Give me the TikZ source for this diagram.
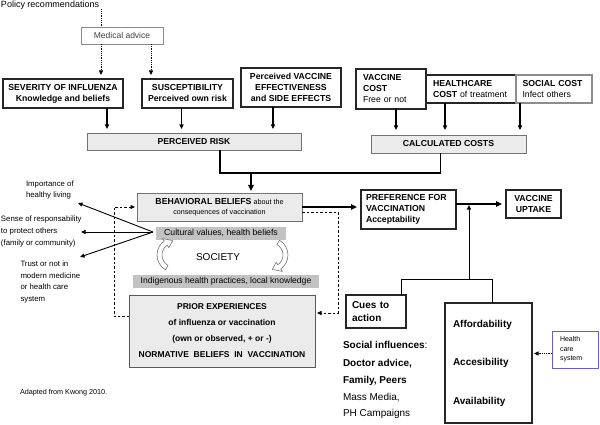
\documentclass[tikz,border=0pt]{standalone}
\usepackage{fontspec}
\setmainfont{Liberation Sans}
\usetikzlibrary{arrows.meta,calc}
\definecolor{hcsblue}{RGB}{100,100,180}
\begin{document}
\begin{tikzpicture}[x=1pt,y=-1pt,
  every node/.style={inner sep=0pt, outer sep=0pt},
  bx/.style={draw=black!85, line width=1.1pt, fill=white, align=center, font=\fontsize{8.7}{11}\selectfont\bfseries},
  lbx/.style={bx, align=left},
  gbox/.style={draw=black!55, line width=0.9pt, fill=black!8},
  band/.style={fill=black!24},
  tip/.style={-{Triangle[length=4.5pt,width=4pt]}},
  bigtip/.style={-{Triangle[length=6pt,width=5.5pt]}},
  thk/.style={line width=1.8pt},
  med/.style={line width=1.1pt},
  dsh/.style={dash pattern=on 2.5pt off 2pt, line width=0.8pt},
  dot/.style={densely dotted, line width=0.8pt},
  txt/.style={font=\fontsize{7.8}{11.8}\selectfont, align=left},
  sitxt/.style={anchor=base west, font=\fontsize{10}{12}\selectfont},
  circarrow/.style={draw=black!55, fill=white, line width=0.6pt},
]
\useasboundingbox (0,0) rectangle (600,425);

% ---------- top ----------
\node[anchor=west, font=\fontsize{9}{11}\selectfont] (policy) at (1,5) {Policy recommendations};
\node[draw=black!45, line width=0.8pt, minimum width=82, minimum height=17,
      font=\fontsize{8.5}{10}\selectfont, text=black!75] (medical) at (122,35.5) {Medical advice};

\node[bx, minimum width=120, minimum height=29] (sev) at (63,93.5) {SEVERITY OF INFLUENZA\\Knowledge and beliefs};
\node[bx, minimum width=91, minimum height=29] (sus) at (187.5,93.5) {SUSCEPTIBILITY\\Perceived own risk};
\node[bx, minimum width=100, minimum height=39] (pve) at (291,87.5) {Perceived VACCINE\\EFFECTIVENESS\\and SIDE EFFECTS};

\node[gbox, minimum width=214, minimum height=17, font=\fontsize{8.6}{10}\selectfont\bfseries] (prisk) at (194,141.5) {PERCEIVED RISK};

\node[lbx, minimum width=90, minimum height=28, text width=76, inner xsep=7] (hcost) at (471,89) {HEALTHCARE\\COST {\mdseries of treatment}};
\node[lbx, draw=black!45, minimum width=76, minimum height=28, text width=63, inner xsep=6.5] (scost) at (554,89) {SOCIAL COST\\{\mdseries Infect others}};
\node[lbx, minimum width=70, minimum height=40, text width=56, inner xsep=7] (vcost) at (391,89) {VACCINE\\COST\\{\mdseries Free or not}};

\node[gbox, minimum width=155, minimum height=18, font=\fontsize{8.7}{10}\selectfont\bfseries] (ccost) at (448.5,144) {CALCULATED COSTS};

% ---------- middle ----------
\node[gbox, minimum width=165, minimum height=28, align=center, font=\fontsize{7.2}{10}\selectfont] (bbel) at (219.5,207)
  {{\fontsize{8.7}{10}\selectfont\bfseries BEHAVIORAL BELIEFS} about the\\consequences of vaccination};
\node[band, minimum width=130, minimum height=13, font=\fontsize{8.7}{10}\selectfont] (cult) at (221,233) {Cultural values, health beliefs};
\node[font=\fontsize{10}{12}\selectfont] (soc) at (218,257) {SOCIETY};
\node[band, minimum width=186, minimum height=13, font=\fontsize{8.6}{10}\selectfont] (indig) at (226,281) {Indigenous health practices, local knowledge};
\node[gbox, draw=black!65, minimum width=186, minimum height=72, align=center,
      font=\fontsize{8.5}{16}\selectfont\bfseries] (prior) at (222,331)
  {PRIOR EXPERIENCES\\of influenza or vaccination\\(own or observed, + or -)\\NORMATIVE\ \ BELIEFS\ \ IN\ \ VACCINATION};

% society circular arrows
\begin{scope}[shift={(174,255)}]
  \path[circarrow] (120:17) arc[start angle=120, end angle=235, radius=17] -- (235:20) -- (265:14.5) -- (235:9) -- (235:12)
    arc[start angle=235, end angle=120, radius=12] -- cycle;
\end{scope}
\begin{scope}[shift={(271,255)}]
  \path[circarrow] (-60:17) arc[start angle=-60, end angle=55, radius=17] -- (55:20) -- (85:14.5) -- (55:9) -- (55:12)
    arc[start angle=55, end angle=-60, radius=12] -- cycle;
\end{scope}

\node[lbx, minimum width=95, minimum height=39, text width=85, inner xsep=5] (pref) at (408.5,209.5) {PREFERENCE FOR\\VACCINATION\\Acceptability};
\node[bx, minimum width=55, minimum height=28] (upt) at (533.5,204) {VACCINE\\UPTAKE};

% ---------- left labels ----------
\node[txt, anchor=west] (imp) at (26,190) {Importance of\\healthy living};
\node[txt, anchor=west] (sense) at (1,231.5) {Sense of responsability\\to protect others\\(family or community)};
\node[txt, anchor=west] (trust) at (20.5,282) {Trust or not in\\modern medicine\\or health care\\system};
\node[anchor=west, font=\fontsize{7.2}{9}\selectfont] (adapted) at (20,393) {Adapted from Kwong 2010.};

% ---------- bottom right ----------
\node[lbx, minimum width=60, minimum height=33, text width=48, inner xsep=6, font=\fontsize{10}{12.5}\selectfont\bfseries] (cues) at (376,311.5) {Cues to\\action};
\node[lbx, minimum width=87, minimum height=120, text width=71, inner xsep=8, font=\fontsize{10}{38.5}\selectfont\bfseries] (aff) at (488.5,363) {Affordability\\Accesibility\\Availability};
\node[draw=hcsblue, line width=0.9pt, minimum width=46, minimum height=37, text width=30, inner xsep=8, align=left,
      font=\fontsize{7}{9.5}\selectfont] (hcs) at (575,349.5) {Health\\care\\system};

\node[sitxt] (si1) at (343,348.6) {\textbf{Social influences}:};
\node[sitxt] (si2) at (343,366.3) {\textbf{Doctor advice,}};
\node[sitxt] (si3) at (343,383.6) {\textbf{Family, Peers}};
\node[sitxt] (si4) at (343,400.3) {Mass Media,};
\node[sitxt] (si5) at (343,416.6) {PH Campaigns};

% ---------- connectors ----------
\coordinate (d1) at ($(medical.south west)+(20,0)$);
\coordinate (d2) at ($(medical.south east)+(-12,0)$);
\draw[dot] (d1 |- policy.south) -- (d1 |- medical.north);
\draw[dot, tip, shorten >=4pt] (d1) -- (d1 |- sev.north);
\draw[dot, tip, shorten >=4pt] (d2) -- (d2 |- sus.north);

\coordinate (s1) at ($(sev.south)+(44,0)$);
\coordinate (s2) at ($(sus.south)+(-6,0)$);
\coordinate (s3) at ($(pve.south)+(-18,0)$);
\draw[med, tip, shorten >=4pt] (s1) -- (s1 |- prisk.north);
\draw[med, tip, shorten >=4pt] (s2) -- (s2 |- prisk.north);
\draw[med, tip, shorten >=4pt] (s3) -- (s3 |- prisk.north);

\coordinate (k1) at ($(vcost.south)+(5,0)$);
\coordinate (k2) at ($(hcost.south)+(-26,0)$);
\coordinate (k3) at ($(scost.south)+(-34,0)$);
\draw[med, tip, shorten >=5pt] (k1) -- (k1 |- ccost.north);
\draw[med, tip, shorten >=5pt] (k2) -- (k2 |- ccost.north);
\draw[med, tip, shorten >=5pt] (k3) -- (k3 |- ccost.north);

\coordinate (r1) at ($(prisk.south)+(26,0)$);
\coordinate (c1) at ($(ccost.south)+(-8,0)$);
\coordinate (hz) at ($(r1)+(0,23)$);
\coordinate (b1) at ($(bbel.north)+(31.5,0)$);
\draw[thk] (r1) -- (hz) -| (c1);
\draw[thk, bigtip, shorten >=2pt] (b1 |- hz) -- (b1);

\draw[thk, bigtip, shorten >=4pt] (bbel.east) -- (bbel.east -| pref.west);
\draw[thk, bigtip, shorten >=4pt] (pref.east |- upt.west) -- (upt.west);

\coordinate (o) at ($(cult.west)+(-3,-1)$);
\coordinate (a1) at (78,203);
\coordinate (a2) at (81,232);
\coordinate (a3) at (80,257);
\draw[line width=0.9pt, tip] (o) -- (a1);
\draw[line width=0.9pt, tip] (o) -- (a2);
\draw[line width=0.9pt, tip] (o) -- (a3);

\coordinate (pl) at ($(prior.north west)!0.3!(prior.south west)$);
\draw[dsh, tip, shorten >=2pt] (pl) -- ++(-15,0) |- (bbel.west);
\coordinate (br) at ($(bbel.north east)!0.68!(bbel.south east)$);
\coordinate (pr) at ($(prior.north east)!0.25!(prior.south east)$);
\draw[dsh, tip, shorten >=2pt] (br) -- ++(36,0) |- (pr);

\coordinate (t0) at (469,279);
\coordinate (tl) at (401,279);
\coordinate (tr) at (492,279);
\draw[line width=1pt, tip, shorten >=1pt] (t0) -- (t0 |- upt.west);
\draw[line width=1pt] (tl |- cues.north) -- (tl) -- (tr) -- (tr |- aff.north);

\coordinate (h1) at ($(hcs.west)+(0,4)$);
\draw[dot, tip, shorten >=2pt] (h1) -- (h1 -| aff.east);
\end{tikzpicture}
\end{document}
